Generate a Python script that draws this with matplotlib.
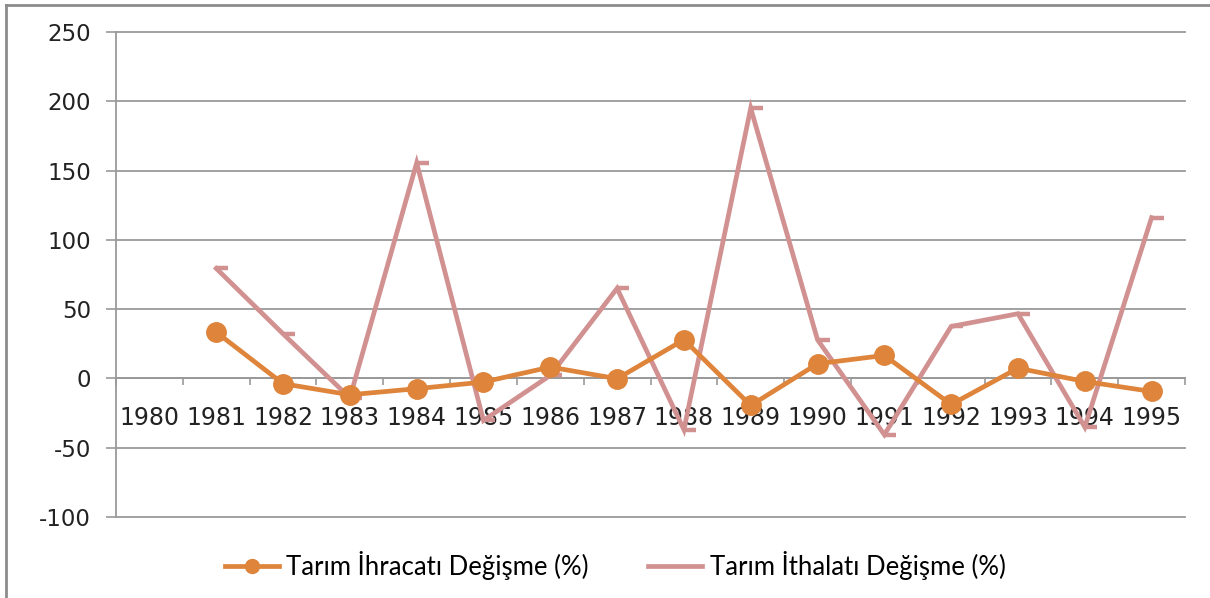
import matplotlib
matplotlib.use("Agg")
import matplotlib.pyplot as plt
from matplotlib.lines import Line2D
from matplotlib.path import Path
import numpy as np

# data
years = [str(y) for y in range(1980, 1996)]
ihracat = [np.nan, 33.4, -3.8, -11.8, -7.4, -2.6, 8.2, -0.2, 27.9, -19.5, 10.6, 16.6, -18.8, 7.4, -2.2, -9.4]
ithalat = [np.nan, 79.4, 32.2, -14.0, 155.5, -30.3, 2.2, 65.0, -37.0, 195.0, 27.9, -40.6, 37.5, 46.7, -35.1, 116.0]
yticks = [-100, -50, 0, 50, 100, 150, 200, 250]

orange = "#DE843B"
pink = "#D29191"
grid_gray = "#9A9A9A"

fig = plt.figure(figsize=(12.1, 5.98), dpi=100)
ax = fig.add_axes([116 / 1210, 81 / 598, 1069 / 1210, 485 / 598])

x = np.arange(len(years))

# dash marker that sticks out to the right of the point
dash = Path([(0, 0), (1, 0)], [Path.MOVETO, Path.LINETO])

ax.plot(x, ithalat, color=pink, lw=3.4, marker=dash, markersize=17,
        markeredgewidth=3.2, markeredgecolor=pink, solid_joinstyle="miter", zorder=3)
ax.plot(x, ihracat, color=orange, lw=3.4, marker="o", markersize=14,
        markeredgecolor=orange, zorder=4)

ax.set_xlim(-0.5, len(years) - 0.5)
ax.set_ylim(-100, 250)

# y axis
ax.set_yticks(yticks)
ax.set_yticklabels([str(v) for v in yticks], fontsize=16.5, family="DejaVu Sans", color="#222222")
ax.tick_params(axis="y", length=7, width=1.2, color=grid_gray, pad=11)
ax.yaxis.grid(True, color=grid_gray, lw=1.3)
for gl in ax.get_ygridlines():
    gl.set_clip_on(False)
ax.set_axisbelow(True)

# x axis on the zero line, ticks between categories
ax.spines["bottom"].set_position(("data", 0))
ax.spines["bottom"].set_color(grid_gray)
ax.spines["bottom"].set_linewidth(1.3)
ax.spines["left"].set_color(grid_gray)
ax.spines["left"].set_linewidth(1.3)
ax.spines["top"].set_visible(False)
ax.spines["right"].set_visible(False)

ax.set_xticks(np.arange(-0.5, len(years), 1.0))
ax.set_xticklabels([])
ax.tick_params(axis="x", which="major", length=5, width=1.2, color=grid_gray)
ax.set_xticks(x, minor=True)
ax.set_xticklabels(years, minor=True, fontsize=17, family="DejaVu Sans", color="#222222")
ax.tick_params(axis="x", which="minor", length=0, pad=20)

# legend
handles = [
    Line2D([], [], color=orange, lw=3.4, marker="o", markersize=10),
    Line2D([], [], color=pink, lw=3.4),
]
labels = ["Tarım İhracatı Değişme (%)", "Tarım İthalatı Değişme (%)"]
fig.legend(handles, labels, loc="center", bbox_to_anchor=(615 / 1210, 33 / 598), ncol=2,
           frameon=False, prop={"family": "Lato", "size": 18.5}, handlelength=2.1,
           handletextpad=0.3, columnspacing=2.3)

# outer frame (top and left edges only are visible)
fig.add_artist(Line2D([6 / 1210, 6 / 1210], [0, 593 / 598], transform=fig.transFigure,
                      color="#8C8C8C", lw=2))
fig.add_artist(Line2D([6 / 1210, 1], [593 / 598, 593 / 598], transform=fig.transFigure,
                      color="#8C8C8C", lw=2))

fig.savefig("out.png", dpi=100)
